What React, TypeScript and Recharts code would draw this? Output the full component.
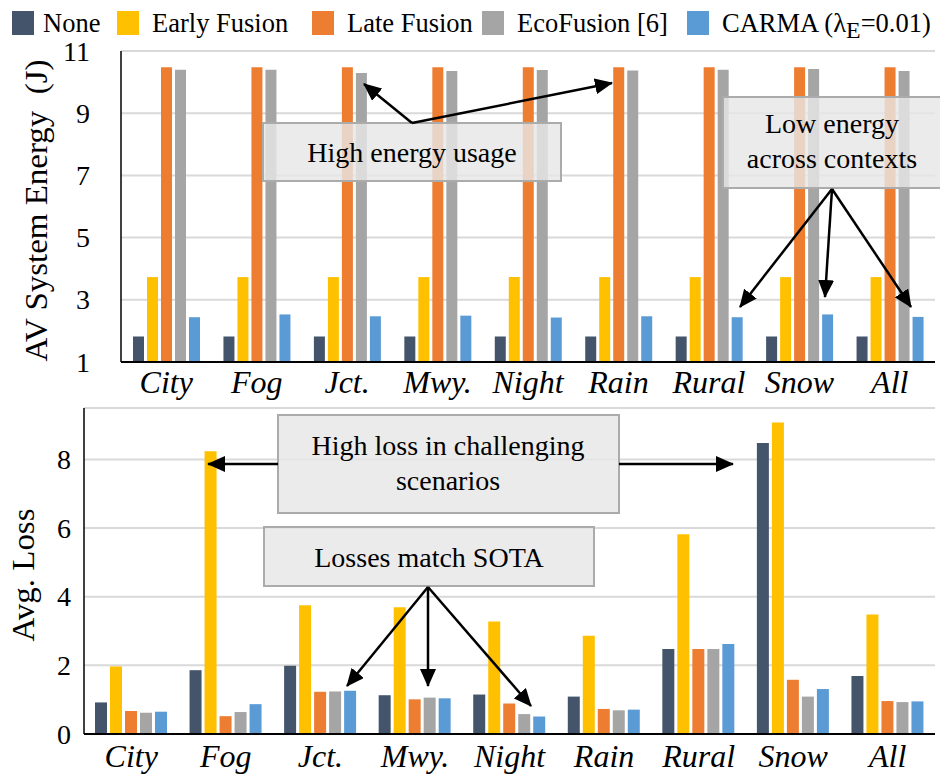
import React from 'react';
import { BarChart, Bar, XAxis, YAxis, CartesianGrid } from 'recharts';

const SERIF = '"Liberation Serif", "Times New Roman", Times, serif';

// categories (driving contexts)
const CATEGORIES = ['City', 'Fog', 'Jct.', 'Mwy.', 'Night', 'Rain', 'Rural', 'Snow', 'All'];

// series
const SERIES_KEYS = ['none', 'early', 'late', 'eco', 'carma'];
const SERIES_NAMES = ['None', 'Early Fusion', 'Late Fusion', 'EcoFusion [6]', 'CARMA'];
const COLORS = ['#44546a', '#ffc000', '#ed7d31', '#a5a5a5', '#5b9bd5'];

// AV system energy (J)
const ENERGY_NONE = [1.82, 1.82, 1.82, 1.82, 1.82, 1.82, 1.82, 1.82, 1.82];
const ENERGY_EARLY = [3.73, 3.73, 3.73, 3.73, 3.73, 3.73, 3.73, 3.73, 3.73];
const ENERGY_LATE = [10.48, 10.48, 10.48, 10.48, 10.48, 10.48, 10.48, 10.48, 10.48];
const ENERGY_ECO = [10.4, 10.4, 10.29, 10.36, 10.39, 10.37, 10.4, 10.42, 10.36];
const ENERGY_CARMA = [2.44, 2.53, 2.47, 2.49, 2.43, 2.47, 2.44, 2.53, 2.45];

// average loss
const LOSS_NONE = [0.92, 1.86, 1.99, 1.13, 1.15, 1.09, 2.48, 8.48, 1.69];
const LOSS_EARLY = [1.97, 8.24, 3.75, 3.69, 3.28, 2.86, 5.82, 9.08, 3.48];
const LOSS_LATE = [0.67, 0.52, 1.23, 1.01, 0.89, 0.73, 2.48, 1.58, 0.96];
const LOSS_ECO = [0.62, 0.64, 1.24, 1.06, 0.58, 0.69, 2.48, 1.09, 0.93];
const LOSS_CARMA = [0.65, 0.87, 1.26, 1.04, 0.51, 0.71, 2.62, 1.31, 0.95];

const ENERGY_TICKS = [1, 3, 5, 7, 9, 11];
const LOSS_TICKS = [0, 2, 4, 6, 8];

const buildRows = (cols: number[][]) =>
  CATEGORIES.map((name, i) => {
    const row: any = { name };
    SERIES_KEYS.forEach((k, s) => (row[k] = cols[s][i]));
    return row;
  });

const energyData = buildRows([ENERGY_NONE, ENERGY_EARLY, ENERGY_LATE, ENERGY_ECO, ENERGY_CARMA]);
const lossData = buildRows([LOSS_NONE, LOSS_EARLY, LOSS_LATE, LOSS_ECO, LOSS_CARMA]);

const categoryTick = (offset: number) => (props: any) => {
  const { x, y, payload } = props;
  return (
    <text
      x={x}
      y={y + offset}
      textAnchor="middle"
      fontSize={32}
      fontStyle="italic"
      fill="#000"
      style={{ fontFamily: SERIF }}
    >
      {payload.value}
    </text>
  );
};

const ValueTick = (props: any) => {
  const { x, y, payload } = props;
  return (
    <text x={x} y={y} dy="0.34em" textAnchor="end" fontSize={28} fill="#000" style={{ fontFamily: SERIF }}>
      {payload.value}
    </text>
  );
};

const axisTitle = (text: string, cx: number, len: number) => (p: any) => {
  const vb = p.viewBox || { y: 0, height: 0 };
  const cy = vb.y + vb.height / 2 + 4;
  return (
    <text
      transform={`translate(${cx}, ${cy}) rotate(-90)`}
      textAnchor="middle"
      dy="0.33em"
      fontSize={31}
      fill="#000"
      textLength={len}
      lengthAdjust="spacingAndGlyphs"
      style={{ fontFamily: SERIF, whiteSpace: 'pre' }}
    >
      {text}
    </text>
  );
};

const Bars = () =>
  SERIES_KEYS.map((k, s) => (
    <Bar key={k} dataKey={k} name={SERIES_NAMES[s]} fill={COLORS[s]} isAnimationActive={false} />
  ));

const Legend = () => {
  const xs = [12, 117, 312, 482, 687];
  return (
    <div style={{ position: 'absolute', left: 0, top: 0, width: 940, height: 44, fontFamily: SERIF, fontSize: 26.5 }}>
      {SERIES_NAMES.map((n, i) => (
        <div key={n} style={{ position: 'absolute', left: xs[i], top: 11, display: 'flex', alignItems: 'center', height: 24, whiteSpace: 'nowrap' }}>
          <span style={{ display: 'inline-block', width: 22, height: 24, background: COLORS[i], marginRight: i === 0 ? 9 : 13 }} />
          <span>
            {n}
            {i === 4 && (
              <>
                {' ('}λ<span style={{ fontSize: '0.9em', position: 'relative', top: '0.28em' }}>E</span>=0.01)
              </>
            )}
          </span>
        </div>
      ))}
    </div>
  );
};

const Annotations = () => {
  const box = { fill: '#e6e6e6', fillOpacity: 0.82, stroke: '#ababab', strokeWidth: 2 };
  const line = { stroke: '#000', strokeWidth: 2.5, markerEnd: 'url(#ah)' };
  const txt = { fontSize: 28, fill: '#000', textAnchor: 'middle' as const, style: { fontFamily: SERIF } };
  return (
    <svg width={940} height={775} style={{ position: 'absolute', left: 0, top: 0, pointerEvents: 'none' }}>
      <defs>
        <marker id="ah" markerUnits="userSpaceOnUse" markerWidth={18} markerHeight={16} refX={17} refY={8} orient="auto">
          <path d="M0,0 L18,8 L0,16 z" fill="#000" />
        </marker>
      </defs>
      {/* top panel */}
      <rect x={263} y={123} width={298} height={58} {...box} />
      <text x={412} y={162} {...txt}>High energy usage</text>
      <line x1={412} y1={123} x2={364} y2={84} {...line} />
      <line x1={412} y1={123} x2={612} y2={83} {...line} />

      <rect x={723} y={97} width={230} height={91} {...box} />
      <text x={832} y={133} {...txt}>Low energy</text>
      <text x={832} y={168} {...txt}>across contexts</text>
      <line x1={832} y1={189} x2={740} y2={307} {...line} />
      <line x1={832} y1={189} x2={825} y2={297} {...line} />
      <line x1={832} y1={189} x2={911} y2={307} {...line} />

      {/* bottom panel */}
      <rect x={278} y={415} width={341} height={98} {...box} />
      <text x={448} y={455} {...txt}>High loss in challenging</text>
      <text x={448} y={490} {...txt}>scenarios</text>
      <line x1={278} y1={464} x2={208} y2={464} {...line} />
      <line x1={619} y1={464} x2={733} y2={464} {...line} />

      <rect x={264} y={527} width={330} height={59} {...box} />
      <text x={429} y={567} {...txt}>Losses match SOTA</text>
      <line x1={428} y1={587} x2={347} y2={686} {...line} />
      <line x1={428} y1={587} x2={428} y2={686} {...line} />
      <line x1={428} y1={587} x2={531} y2={706} {...line} />
    </svg>
  );
};

export default function App() {
  return (
    <div style={{ position: 'absolute', left: 0, top: 0, width: 940, height: 775, background: '#fff', overflow: 'hidden' }}>
      <Legend />
      <div style={{ position: 'absolute', left: 0, top: 0 }}>
        <BarChart width={940} height={400} data={energyData} margin={{ top: 51, right: 5, left: 0, bottom: 0 }} barSize={11} barGap={3}>
          <CartesianGrid vertical={false} stroke="#d9d9d9" strokeWidth={2} />
          <XAxis dataKey="name" height={38} tickSize={0} tickMargin={0} tickLine={false} axisLine={{ stroke: '#000', strokeWidth: 2 }} tick={categoryTick(31)} interval={0} />
          <YAxis
            width={121}
            domain={[1, 11]}
            ticks={ENERGY_TICKS}
            tickSize={0}
            tickMargin={31}
            tickLine={false}
            axisLine={{ stroke: '#000', strokeWidth: 1.5 }}
            tick={<ValueTick />}
            allowDataOverflow
            label={{ content: axisTitle('AV System Energy  (J)', 37, 302) }}
          />
          {Bars()}
        </BarChart>
      </div>
      <div style={{ position: 'absolute', left: 0, top: 400 }}>
        <BarChart width={940} height={375} data={lossData} margin={{ top: 8, right: 5, left: 0, bottom: 0 }} barSize={12} barGap={3}>
          <CartesianGrid vertical={false} stroke="#d9d9d9" strokeWidth={2} />
          <XAxis dataKey="name" height={41} tickSize={0} tickMargin={0} tickLine={false} axisLine={{ stroke: '#000', strokeWidth: 2 }} tick={categoryTick(33)} interval={0} />
          <YAxis
            width={84}
            domain={[0, 9.5]}
            ticks={LOSS_TICKS}
            tickSize={0}
            tickMargin={13}
            tickLine={false}
            axisLine={{ stroke: '#000', strokeWidth: 1.5 }}
            tick={<ValueTick />}
            allowDataOverflow
            label={{ content: axisTitle('Avg. Loss', 24, 133) }}
          />
          {Bars()}
        </BarChart>
      </div>
      <Annotations />
    </div>
  );
}
